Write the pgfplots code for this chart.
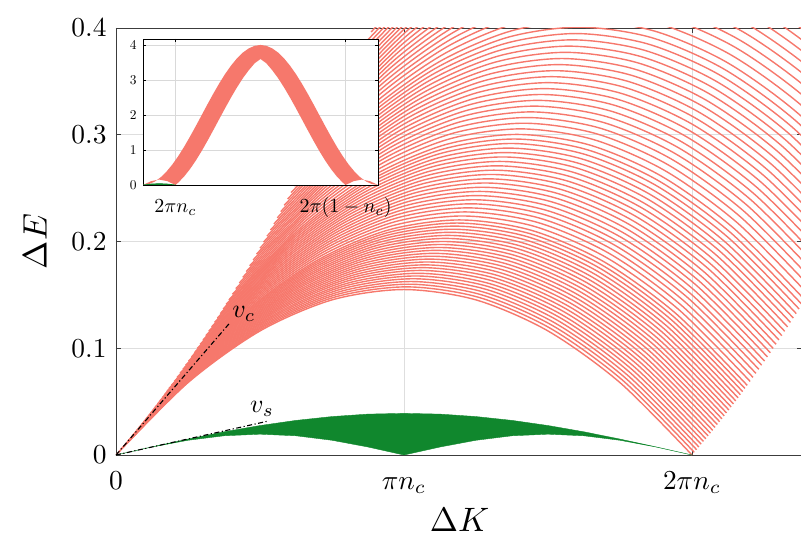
\documentclass[border=0pt]{standalone}
\usepackage{graphicx}
\usepackage{pgfplots}
\pgfplotsset{compat=1.18}
\definecolor{sal}{RGB}{246,120,108}
\definecolor{grn}{RGB}{16,135,45}
\definecolor{spine}{RGB}{60,60,60}
\pgfplotsset{rl/.style={draw=sal, line width=1.4bp, smooth, no markers}}
\newcommand\rc[1]{\addplot[rl] coordinates {#1};}
\newcommand\bt[1]{\scalebox{2.75}{#1}}
\begin{document}
\begin{tikzpicture}
\useasboundingbox (-116bp,-86bp) rectangle (685bp,455bp);
\begin{axis}[
 scale only axis, width=686bp, height=427bp,
 xmin=0, xmax=2.382, ymin=0, ymax=0.4,
 xtick={0,1,2}, xticklabels={\bt{\strut$0$},\bt{\strut$\pi n_c$},\bt{\strut$2\pi n_c$}},
 ytick={0,0.1,0.2,0.3,0.4}, yticklabels={\bt{$0$},\bt{$0.1$},\bt{$0.2$},\bt{$0.3$},\bt{$0.4$}},
 tick align=inside, major tick length=5bp,
 grid=major, grid style={line width=0.5bp, draw=black!13},
 axis line style={draw=spine, line width=0.9bp},
 tick style={draw=spine, line width=0.8bp},
 xticklabel style={yshift=-8bp},
 yticklabel style={xshift=-6bp},
 xlabel={\scalebox{3.4}{$\Delta K$}}, ylabel={\scalebox{3.4}{$\Delta E$}},
 xlabel style={at={(axis description cs:0.501,-0.153)}, anchor=center, inner sep=0pt},
 ylabel style={at={(axis description cs:-0.118,0.5)}, anchor=center, inner sep=0pt},
]
% ---- charge (red) curves ----
\rc{(0,0)(0.25,0.0678)(0.5,0.1162)(0.75,0.1453)(1,0.155)(1.25,0.1453)(1.5,0.1162)(1.75,0.0678)(2,0)}
\rc{(0.008,0.0025)(0.258,0.0703)(0.508,0.1187)(0.758,0.1478)(1.008,0.1575)(1.258,0.1478)(1.508,0.1187)(1.758,0.0703)(2.008,0.0025)}
\rc{(0.016,0.005)(0.266,0.0728)(0.516,0.1212)(0.766,0.1503)(1.016,0.16)(1.266,0.1503)(1.516,0.1212)(1.766,0.0728)(2.016,0.005)}
\rc{(0.024,0.0075)(0.274,0.0753)(0.524,0.1237)(0.774,0.1528)(1.024,0.1625)(1.274,0.1528)(1.524,0.1237)(1.774,0.0753)(2.024,0.0075)}
\rc{(0.032,0.0101)(0.282,0.0779)(0.532,0.1263)(0.782,0.1554)(1.032,0.1651)(1.282,0.1554)(1.532,0.1263)(1.782,0.0779)(2.032,0.0101)}
\rc{(0.04,0.0127)(0.29,0.0805)(0.54,0.1289)(0.79,0.158)(1.04,0.1677)(1.29,0.158)(1.54,0.1289)(1.79,0.0805)(2.04,0.0127)}
\rc{(0.048,0.0152)(0.298,0.083)(0.548,0.1314)(0.798,0.1605)(1.048,0.1702)(1.298,0.1605)(1.548,0.1314)(1.798,0.083)(2.048,0.0152)}
\rc{(0.056,0.0179)(0.306,0.0857)(0.556,0.1341)(0.806,0.1632)(1.056,0.1729)(1.306,0.1632)(1.556,0.1341)(1.806,0.0857)(2.056,0.0179)}
\rc{(0.064,0.0205)(0.314,0.0883)(0.564,0.1367)(0.814,0.1658)(1.064,0.1755)(1.314,0.1658)(1.564,0.1367)(1.814,0.0883)(2.064,0.0205)}
\rc{(0.072,0.0231)(0.322,0.0909)(0.572,0.1393)(0.822,0.1684)(1.072,0.1781)(1.322,0.1684)(1.572,0.1393)(1.822,0.0909)(2.072,0.0231)}
\rc{(0.08,0.0258)(0.33,0.0936)(0.58,0.142)(0.83,0.1711)(1.08,0.1808)(1.33,0.1711)(1.58,0.142)(1.83,0.0936)(2.08,0.0258)}
\rc{(0.088,0.0285)(0.338,0.0963)(0.588,0.1447)(0.838,0.1738)(1.088,0.1835)(1.338,0.1738)(1.588,0.1447)(1.838,0.0963)(2.088,0.0285)}
\rc{(0.096,0.0312)(0.346,0.099)(0.596,0.1474)(0.846,0.1765)(1.096,0.1862)(1.346,0.1765)(1.596,0.1474)(1.846,0.099)(2.096,0.0312)}
\rc{(0.104,0.0339)(0.354,0.1017)(0.604,0.1501)(0.854,0.1792)(1.104,0.1889)(1.354,0.1792)(1.604,0.1501)(1.854,0.1017)(2.104,0.0339)}
\rc{(0.112,0.0367)(0.362,0.1045)(0.612,0.1529)(0.862,0.182)(1.112,0.1917)(1.362,0.182)(1.612,0.1529)(1.862,0.1045)(2.112,0.0367)}
\rc{(0.12,0.0394)(0.37,0.1072)(0.62,0.1556)(0.87,0.1847)(1.12,0.1944)(1.37,0.1847)(1.62,0.1556)(1.87,0.1072)(2.12,0.0394)}
\rc{(0.128,0.0422)(0.378,0.11)(0.628,0.1584)(0.878,0.1875)(1.128,0.1972)(1.378,0.1875)(1.628,0.1584)(1.878,0.11)(2.128,0.0422)}
\rc{(0.136,0.045)(0.386,0.1128)(0.636,0.1612)(0.886,0.1903)(1.136,0.2)(1.386,0.1903)(1.636,0.1612)(1.886,0.1128)(2.136,0.045)}
\rc{(0.144,0.0479)(0.394,0.1157)(0.644,0.1641)(0.894,0.1932)(1.144,0.2029)(1.394,0.1932)(1.644,0.1641)(1.894,0.1157)(2.144,0.0479)}
\rc{(0.152,0.0507)(0.402,0.1185)(0.652,0.1669)(0.902,0.196)(1.152,0.2057)(1.402,0.196)(1.652,0.1669)(1.902,0.1185)(2.152,0.0507)}
\rc{(0.16,0.0536)(0.41,0.1214)(0.66,0.1698)(0.91,0.1989)(1.16,0.2086)(1.41,0.1989)(1.66,0.1698)(1.91,0.1214)(2.16,0.0536)}
\rc{(0.168,0.0565)(0.418,0.1243)(0.668,0.1727)(0.918,0.2018)(1.168,0.2115)(1.418,0.2018)(1.668,0.1727)(1.918,0.1243)(2.168,0.0565)}
\rc{(0.176,0.0594)(0.426,0.1272)(0.676,0.1756)(0.926,0.2047)(1.176,0.2144)(1.426,0.2047)(1.676,0.1756)(1.926,0.1272)(2.176,0.0594)}
\rc{(0.184,0.0623)(0.434,0.1301)(0.684,0.1785)(0.934,0.2076)(1.184,0.2173)(1.434,0.2076)(1.684,0.1785)(1.934,0.1301)(2.184,0.0623)}
\rc{(0.192,0.0652)(0.442,0.133)(0.692,0.1814)(0.942,0.2105)(1.192,0.2202)(1.442,0.2105)(1.692,0.1814)(1.942,0.133)(2.192,0.0652)}
\rc{(0.202,0.0689)(0.452,0.1367)(0.702,0.1851)(0.952,0.2142)(1.202,0.2239)(1.452,0.2142)(1.702,0.1851)(1.952,0.1367)(2.202,0.0689)}
\rc{(0.212,0.0727)(0.462,0.1405)(0.712,0.1889)(0.962,0.218)(1.212,0.2277)(1.462,0.218)(1.712,0.1889)(1.962,0.1405)(2.212,0.0727)}
\rc{(0.222,0.0765)(0.472,0.1443)(0.722,0.1927)(0.972,0.2218)(1.222,0.2315)(1.472,0.2218)(1.722,0.1927)(1.972,0.1443)(2.222,0.0765)}
\rc{(0.232,0.0803)(0.482,0.1481)(0.732,0.1965)(0.982,0.2256)(1.232,0.2353)(1.482,0.2256)(1.732,0.1965)(1.982,0.1481)(2.232,0.0803)}
\rc{(0.242,0.0841)(0.492,0.1519)(0.742,0.2003)(0.992,0.2294)(1.242,0.2391)(1.492,0.2294)(1.742,0.2003)(1.992,0.1519)(2.242,0.0841)}
\rc{(0.252,0.088)(0.502,0.1558)(0.752,0.2042)(1.002,0.2333)(1.252,0.243)(1.502,0.2333)(1.752,0.2042)(2.002,0.1558)(2.252,0.088)}
\rc{(0.262,0.0919)(0.512,0.1597)(0.762,0.2081)(1.012,0.2372)(1.262,0.2469)(1.512,0.2372)(1.762,0.2081)(2.012,0.1597)(2.262,0.0919)}
\rc{(0.272,0.0958)(0.522,0.1636)(0.772,0.212)(1.022,0.2411)(1.272,0.2508)(1.522,0.2411)(1.772,0.212)(2.022,0.1636)(2.272,0.0958)}
\rc{(0.282,0.0998)(0.532,0.1676)(0.782,0.216)(1.032,0.2451)(1.282,0.2548)(1.532,0.2451)(1.782,0.216)(2.032,0.1676)(2.282,0.0998)}
\rc{(0.292,0.1037)(0.542,0.1715)(0.792,0.2199)(1.042,0.249)(1.292,0.2587)(1.542,0.249)(1.792,0.2199)(2.042,0.1715)(2.292,0.1037)}
\rc{(0.302,0.1078)(0.552,0.1756)(0.802,0.224)(1.052,0.2531)(1.302,0.2628)(1.552,0.2531)(1.802,0.224)(2.052,0.1756)(2.302,0.1078)}
\rc{(0.312,0.1118)(0.562,0.1796)(0.812,0.228)(1.062,0.2571)(1.312,0.2668)(1.562,0.2571)(1.812,0.228)(2.062,0.1796)(2.312,0.1118)}
\rc{(0.322,0.1159)(0.572,0.1837)(0.822,0.2321)(1.072,0.2612)(1.322,0.2709)(1.572,0.2612)(1.822,0.2321)(2.072,0.1837)(2.322,0.1159)}
\rc{(0.332,0.12)(0.582,0.1878)(0.832,0.2362)(1.082,0.2653)(1.332,0.275)(1.582,0.2653)(1.832,0.2362)(2.082,0.1878)(2.332,0.12)}
\rc{(0.342,0.1242)(0.592,0.192)(0.842,0.2404)(1.092,0.2695)(1.342,0.2792)(1.592,0.2695)(1.842,0.2404)(2.092,0.192)(2.342,0.1242)}
\rc{(0.352,0.1283)(0.602,0.1961)(0.852,0.2445)(1.102,0.2736)(1.352,0.2833)(1.602,0.2736)(1.852,0.2445)(2.102,0.1961)(2.352,0.1283)}
\rc{(0.362,0.1325)(0.612,0.2003)(0.862,0.2487)(1.112,0.2778)(1.362,0.2875)(1.612,0.2778)(1.862,0.2487)(2.112,0.2003)(2.362,0.1325)}
\rc{(0.372,0.1368)(0.622,0.2046)(0.872,0.253)(1.122,0.2821)(1.372,0.2918)(1.622,0.2821)(1.872,0.253)(2.122,0.2046)(2.372,0.1368)}
\rc{(0.382,0.141)(0.632,0.2088)(0.882,0.2572)(1.132,0.2863)(1.382,0.296)(1.632,0.2863)(1.882,0.2572)(2.132,0.2088)(2.382,0.141)}
\rc{(0.392,0.1453)(0.642,0.2131)(0.892,0.2615)(1.142,0.2906)(1.392,0.3003)(1.642,0.2906)(1.892,0.2615)(2.142,0.2131)(2.392,0.1453)}
\rc{(0.404,0.1505)(0.654,0.2183)(0.904,0.2667)(1.154,0.2958)(1.404,0.3055)(1.654,0.2958)(1.904,0.2667)(2.154,0.2183)(2.404,0.1505)}
\rc{(0.416,0.1558)(0.666,0.2236)(0.916,0.272)(1.166,0.3011)(1.416,0.3108)(1.666,0.3011)(1.916,0.272)(2.166,0.2236)(2.416,0.1558)}
\rc{(0.428,0.1611)(0.678,0.2289)(0.928,0.2773)(1.178,0.3064)(1.428,0.3161)(1.678,0.3064)(1.928,0.2773)(2.178,0.2289)(2.428,0.1611)}
\rc{(0.44,0.1664)(0.69,0.2342)(0.94,0.2826)(1.19,0.3117)(1.44,0.3214)(1.69,0.3117)(1.94,0.2826)(2.19,0.2342)(2.44,0.1664)}
\rc{(0.452,0.1718)(0.702,0.2396)(0.952,0.288)(1.202,0.3171)(1.452,0.3268)(1.702,0.3171)(1.952,0.288)(2.202,0.2396)(2.452,0.1718)}
\rc{(0.464,0.1772)(0.714,0.245)(0.964,0.2934)(1.214,0.3225)(1.464,0.3322)(1.714,0.3225)(1.964,0.2934)(2.214,0.245)(2.464,0.1772)}
\rc{(0.476,0.1827)(0.726,0.2505)(0.976,0.2989)(1.226,0.328)(1.476,0.3377)(1.726,0.328)(1.976,0.2989)(2.226,0.2505)(2.476,0.1827)}
\rc{(0.488,0.1882)(0.738,0.256)(0.988,0.3044)(1.238,0.3335)(1.488,0.3432)(1.738,0.3335)(1.988,0.3044)(2.238,0.256)(2.488,0.1882)}
\rc{(0.5,0.1938)(0.75,0.2616)(1,0.31)(1.25,0.3391)(1.5,0.3488)(1.75,0.3391)(2,0.31)(2.25,0.2616)(2.5,0.1938)}
\rc{(0.512,0.1994)(0.762,0.2672)(1.012,0.3156)(1.262,0.3447)(1.512,0.3544)(1.762,0.3447)(2.012,0.3156)(2.262,0.2672)(2.512,0.1994)}
\rc{(0.524,0.205)(0.774,0.2728)(1.024,0.3212)(1.274,0.3503)(1.524,0.36)(1.774,0.3503)(2.024,0.3212)(2.274,0.2728)(2.524,0.205)}
\rc{(0.536,0.2107)(0.786,0.2785)(1.036,0.3269)(1.286,0.356)(1.536,0.3657)(1.786,0.356)(2.036,0.3269)(2.286,0.2785)(2.536,0.2107)}
\rc{(0.548,0.2164)(0.798,0.2842)(1.048,0.3326)(1.298,0.3617)(1.548,0.3714)(1.798,0.3617)(2.048,0.3326)(2.298,0.2842)(2.548,0.2164)}
\rc{(0.56,0.2222)(0.81,0.29)(1.06,0.3384)(1.31,0.3675)(1.56,0.3772)(1.81,0.3675)(2.06,0.3384)(2.31,0.29)(2.56,0.2222)}
\rc{(0.572,0.228)(0.822,0.2958)(1.072,0.3442)(1.322,0.3733)(1.572,0.383)(1.822,0.3733)(2.072,0.3442)(2.322,0.2958)(2.572,0.228)}
\rc{(0.584,0.2339)(0.834,0.3017)(1.084,0.3501)(1.334,0.3792)(1.584,0.3889)(1.834,0.3792)(2.084,0.3501)(2.334,0.3017)(2.584,0.2339)}
\rc{(0.596,0.2398)(0.846,0.3076)(1.096,0.356)(1.346,0.3851)(1.596,0.3948)(1.846,0.3851)(2.096,0.356)(2.346,0.3076)(2.596,0.2398)}
\rc{(0.608,0.2458)(0.858,0.3136)(1.108,0.362)(1.358,0.3911)(1.608,0.4008)(1.858,0.3911)(2.108,0.362)(2.358,0.3136)(2.608,0.2458)}
\rc{(0.62,0.2518)(0.87,0.3196)(1.12,0.368)(1.37,0.3971)(1.62,0.4068)(1.87,0.3971)(2.12,0.368)(2.37,0.3196)(2.62,0.2518)}
\rc{(0.634,0.2588)(0.884,0.3266)(1.134,0.375)(1.384,0.4041)(1.634,0.4138)(1.884,0.4041)(2.134,0.375)(2.384,0.3266)(2.634,0.2588)}
\rc{(0.648,0.266)(0.898,0.3338)(1.148,0.3822)(1.398,0.4113)(1.648,0.421)(1.898,0.4113)(2.148,0.3822)(2.398,0.3338)(2.648,0.266)}
\rc{(0.662,0.2731)(0.912,0.3409)(1.162,0.3893)(1.412,0.4184)(1.662,0.4281)(1.912,0.4184)(2.162,0.3893)(2.412,0.3409)(2.662,0.2731)}
\rc{(0.676,0.2804)(0.926,0.3482)(1.176,0.3966)(1.426,0.4257)(1.676,0.4354)(1.926,0.4257)(2.176,0.3966)(2.426,0.3482)(2.676,0.2804)}
\rc{(0.69,0.2877)(0.94,0.3555)(1.19,0.4039)(1.44,0.433)(1.69,0.4427)(1.94,0.433)(2.19,0.4039)(2.44,0.3555)(2.69,0.2877)}
\rc{(0.704,0.2951)(0.954,0.3629)(1.204,0.4113)(1.454,0.4404)(1.704,0.4501)(1.954,0.4404)(2.204,0.4113)(2.454,0.3629)(2.704,0.2951)}
\rc{(0.718,0.3025)(0.968,0.3703)(1.218,0.4187)(1.468,0.4478)(1.718,0.4575)(1.968,0.4478)(2.218,0.4187)(2.468,0.3703)(2.718,0.3025)}
\rc{(0.732,0.31)(0.982,0.3778)(1.232,0.4262)(1.482,0.4553)(1.732,0.465)(1.982,0.4553)(2.232,0.4262)(2.482,0.3778)(2.732,0.31)}
\rc{(0.746,0.3175)(0.996,0.3853)(1.246,0.4337)(1.496,0.4628)(1.746,0.4725)(1.996,0.4628)(2.246,0.4337)(2.496,0.3853)(2.746,0.3175)}
\rc{(0.76,0.3251)(1.01,0.3929)(1.26,0.4413)(1.51,0.4704)(1.76,0.4801)(2.01,0.4704)(2.26,0.4413)(2.51,0.3929)(2.76,0.3251)}
\rc{(0.774,0.3328)(1.024,0.4006)(1.274,0.449)(1.524,0.4781)(1.774,0.4878)(2.024,0.4781)(2.274,0.449)(2.524,0.4006)(2.774,0.3328)}
\rc{(0.788,0.3405)(1.038,0.4083)(1.288,0.4567)(1.538,0.4858)(1.788,0.4955)(2.038,0.4858)(2.288,0.4567)(2.538,0.4083)(2.788,0.3405)}
\rc{(0.802,0.3483)(1.052,0.4161)(1.302,0.4645)(1.552,0.4936)(1.802,0.5033)(2.052,0.4936)(2.302,0.4645)(2.552,0.4161)(2.802,0.3483)}
\rc{(0.816,0.3562)(1.066,0.424)(1.316,0.4724)(1.566,0.5015)(1.816,0.5112)(2.066,0.5015)(2.316,0.4724)(2.566,0.424)(2.816,0.3562)}
\rc{(0.83,0.3641)(1.08,0.4319)(1.33,0.4803)(1.58,0.5094)(1.83,0.5191)(2.08,0.5094)(2.33,0.4803)(2.58,0.4319)(2.83,0.3641)}
\rc{(0.844,0.3721)(1.094,0.4399)(1.344,0.4883)(1.594,0.5174)(1.844,0.5271)(2.094,0.5174)(2.344,0.4883)(2.594,0.4399)(2.844,0.3721)}
\rc{(0.858,0.3801)(1.108,0.4479)(1.358,0.4963)(1.608,0.5254)(1.858,0.5351)(2.108,0.5254)(2.358,0.4963)(2.608,0.4479)(2.858,0.3801)}
\rc{(0.872,0.3882)(1.122,0.456)(1.372,0.5044)(1.622,0.5335)(1.872,0.5432)(2.122,0.5335)(2.372,0.5044)(2.622,0.456)(2.872,0.3882)}
\rc{(0.886,0.3963)(1.136,0.4641)(1.386,0.5125)(1.636,0.5416)(1.886,0.5513)(2.136,0.5416)(2.386,0.5125)(2.636,0.4641)(2.886,0.3963)}
% ---- spin (green) continuum ----
\addplot[fill=grn, draw=grn, line width=0.4bp] coordinates {(0,0)(0.125,0.0076)(0.25,0.0149)(0.375,0.0217)(0.5,0.0276)(0.625,0.0324)(0.75,0.036)(0.875,0.0383)(1,0.039)(1.125,0.0383)(1.25,0.036)(1.375,0.0324)(1.5,0.0276)(1.625,0.0217)(1.75,0.0149)(1.875,0.0076)(2,0)(1.875,0.0075)(1.75,0.0138)(1.625,0.018)(1.5,0.0195)(1.375,0.018)(1.25,0.0138)(1.125,0.0075)(1,0)(0.875,0.0075)(0.75,0.0138)(0.625,0.018)(0.5,0.0195)(0.375,0.018)(0.25,0.0138)(0.125,0.0075)} --cycle;
% ---- velocity lines ----
\addplot[black, line width=1.1bp, dash pattern=on 5bp off 2.5bp on 1.2bp off 2.5bp] coordinates {(0,0)(0.396,0.124)};
\addplot[black, line width=1.1bp, dash pattern=on 5bp off 2.5bp on 1.2bp off 2.5bp] coordinates {(0,0)(0.524,0.0315)};
\node at (axis cs:0.444,0.132) {\scalebox{2.6}{$v_c$}};
\node at (axis cs:0.507,0.043) {\scalebox{2.6}{$v_s$}};
\end{axis}
% ---- inset ----
\begin{axis}[at={(27bp,270bp)}, anchor=south west, scale only axis,
 width=235bp, height=146bp,
 xmin=0, xmax=1, ymin=0, ymax=4.17,
 xtick={0.138,0.862}, xticklabels={\scalebox{2}{\strut$2\pi n_c$},\scalebox{2}{\strut$2\pi(1-n_c)$}},
 ytick={0,1,2,3,4}, yticklabels={\scalebox{1.35}{$0$},\scalebox{1.35}{$1$},\scalebox{1.35}{$2$},\scalebox{1.35}{$3$},\scalebox{1.35}{$4$}},
 tick align=inside, major tick length=3bp,
 grid=major, grid style={line width=0.5bp, draw=black!15},
 axis line style={draw=black, line width=0.8bp},
 tick style={draw=black, line width=0.6bp},
 axis background/.style={fill=white},
 yticklabel style={xshift=-3bp},
 xticklabel style={yshift=-7bp},
]
\addplot[fill=sal, draw=none] coordinates {(0,0)(0.025,0.0246)(0.05,0.0979)(0.075,0.218)(0.1,0.382)(0.125,0.586)(0.15,0.824)(0.175,1.092)(0.2,1.382)(0.225,1.687)(0.25,2)(0.275,2.313)(0.3,2.618)(0.325,2.908)(0.35,3.176)(0.375,3.414)(0.4,3.618)(0.425,3.782)(0.45,3.902)(0.475,3.975)(0.5,4)(0.525,3.975)(0.55,3.902)(0.575,3.782)(0.6,3.618)(0.625,3.414)(0.65,3.176)(0.675,2.908)(0.7,2.618)(0.725,2.313)(0.75,2)(0.775,1.687)(0.8,1.382)(0.825,1.092)(0.85,0.824)(0.875,0.586)(0.9,0.382)(0.925,0.218)(0.95,0.0979)(0.975,0.0246)(1,0)(0.9655,0.11)(0.931,0.155)(0.8965,0.11)(0.862,0)(0.85,0.0686)(0.825,0.2426)(0.8,0.455)(0.775,0.701)(0.75,0.974)(0.725,1.269)(0.7,1.577)(0.675,1.89)(0.65,2.202)(0.625,2.504)(0.6,2.789)(0.575,3.051)(0.55,3.278)(0.525,3.475)(0.5,3.6)(0.475,3.475)(0.45,3.278)(0.425,3.051)(0.4,2.789)(0.375,2.504)(0.35,2.202)(0.325,1.89)(0.3,1.577)(0.275,1.269)(0.25,0.974)(0.225,0.701)(0.2,0.455)(0.175,0.2426)(0.15,0.0686)(0.138,0)(0.1035,0.11)(0.069,0.155)(0.0345,0.11)} --cycle;
\addplot[fill=grn, draw=grn, line width=0.6bp] coordinates {(0,0)(0.0345,0.028)(0.069,0.039)(0.1035,0.028)(0.138,0)(0.1035,0.014)(0.069,0)(0.0345,0.014)} --cycle;
\end{axis}
\end{tikzpicture}
\end{document}
